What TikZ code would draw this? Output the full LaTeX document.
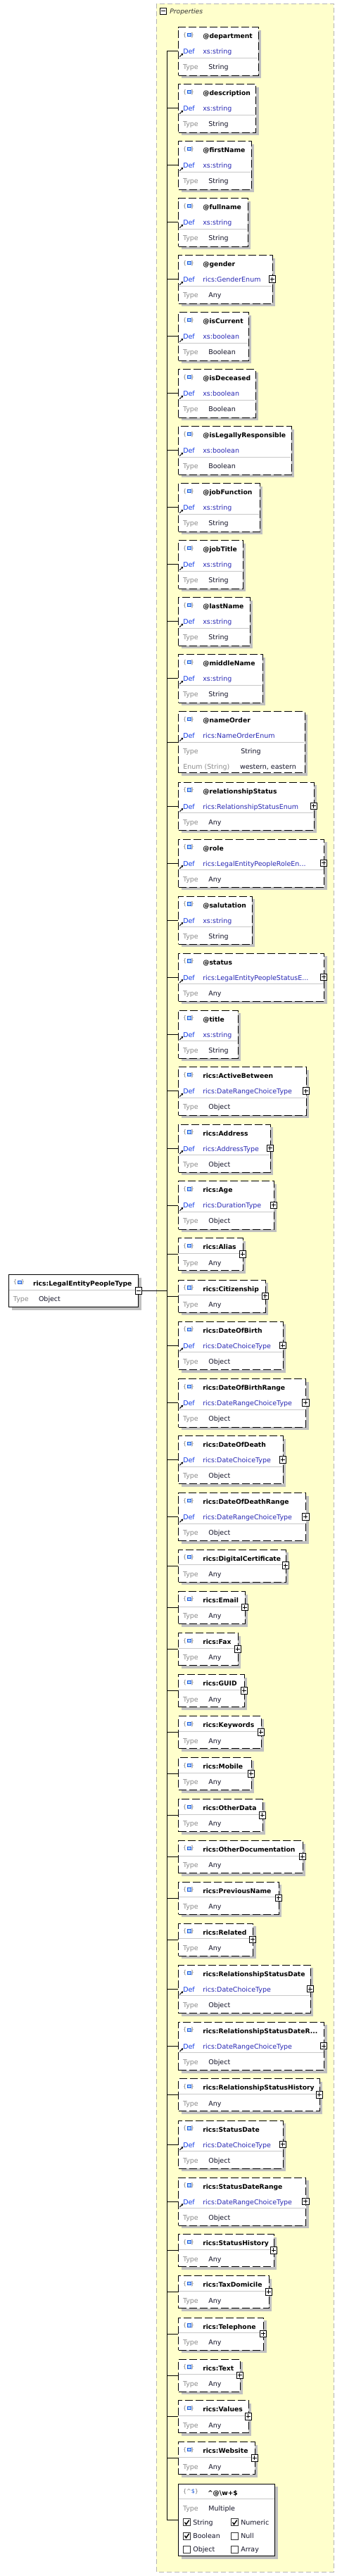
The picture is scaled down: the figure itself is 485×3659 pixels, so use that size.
\documentclass[tikz,border=0pt]{standalone}
\usepackage{fontspec}
\setmainfont{DejaVu Sans}
\usetikzlibrary{shadows,arrows.meta,calc}
\definecolor{panelfill}{RGB}{255,255,204}
\definecolor{panelline}{RGB}{180,180,180}
\definecolor{shadowgray}{RGB}{192,192,192}
\definecolor{seplinec}{RGB}{200,200,200}
\definecolor{deflblc}{RGB}{20,60,230}
\definecolor{defvalc}{RGB}{40,40,180}
\definecolor{typelblc}{RGB}{140,140,140}
\definecolor{typevalc}{RGB}{20,20,40}
\definecolor{iconfill}{RGB}{170,210,255}
\definecolor{iconline}{RGB}{30,90,220}
\definecolor{iconbrace}{RGB}{120,120,120}
\tikzset{
  elbox/.style={draw=black, fill=white, line width=1pt, inner sep=0pt, anchor=north west,
    drop shadow={shadow xshift=4pt, shadow yshift=-4pt, fill=shadowgray, opacity=1}},
  dashbox/.style={elbox, dash pattern=on 11pt off 4pt},
  solidbox/.style={elbox},
  panel/.style={fill=panelfill, draw=panelline, line width=1pt, dash pattern=on 7pt off 4pt},
  sepline/.style={draw=seplinec, line width=1pt},
  conn/.style={draw=black, line width=1pt},
  txtbase/.style={anchor=base west, inner sep=0pt, outer sep=0pt},
  titletxt/.style={txtbase, font=\fontsize{9.2}{11}\selectfont\bfseries, text=black},
  deflbl/.style={txtbase, font=\fontsize{9.5}{11}\selectfont, text=deflblc},
  defval/.style={txtbase, font=\fontsize{9.5}{11}\selectfont, text=defvalc},
  typelbl/.style={txtbase, font=\fontsize{9.5}{11}\selectfont, text=typelblc},
  typeval/.style={txtbase, font=\fontsize{9.5}{11}\selectfont, text=typevalc},
  proptxt/.style={txtbase, font=\fontsize{9.2}{11}\selectfont\itshape, text=black!80},
  icontxt/.style={inner sep=0pt, outer sep=0pt, font=\fontsize{8}{9}\selectfont, text=iconbrace},
  refarrow/.style={line width=1pt, -{Stealth[length=3pt,width=3.5pt]}},
  btnbase/.style={draw=black, fill=white, line width=0.8pt, minimum size=9.4pt, inner sep=0pt},
  plusbtn/.style={btnbase, path picture={
    \draw[line width=0.8pt] ([xshift=-3pt]path picture bounding box.center) -- ([xshift=3pt]path picture bounding box.center)
      ([yshift=-3pt]path picture bounding box.center) -- ([yshift=3pt]path picture bounding box.center);}},
  minusbtn/.style={btnbase, path picture={
    \draw[line width=0.8pt] ([xshift=-3pt]path picture bounding box.center) -- ([xshift=3pt]path picture bounding box.center);}},
  chkbox/.style={draw=black!80, fill=white, line width=0.8pt, minimum size=10pt, inner sep=0pt},
  checkmark/.style={draw=black, line width=1.4pt},
}
\newcommand\elicon[2]{%
  \node[icontxt, anchor=west] at (#1-1,#2) {\{};
  \node[icontxt, anchor=east] at (#1+15,#2) {\}};
  \draw[draw=iconline, fill=iconfill, line width=0.8pt] (#1+5,#2-2.5) rectangle (#1+10,#2+1.8);
}
\newcommand\elthree[7]{%
  \node[dashbox, minimum width={(#3-253)*1pt}, minimum height=68.3pt] (#1) at (253,#2) {};
  \draw[sepline] (253.5,#2+44) -- (#3-0.5,#2+44);
  \elicon{261}{#2+11.7}
  \node[titletxt] at (288.3,#2+16.5) {#4};
  \node[deflbl] at (260.3,#2+38.5) {Def};
  \node[defval] at (288.3,#2+38.5) {#5};
  \node[typelbl] at (260,#2+60.5) {Type};
  \node[typeval] at (296.3,#2+60.5) {#6};
  \draw[refarrow] (255.3,#2+42.3) -- (260.3,#2+37.5);
  \ifnum#7=1 \node[plusbtn] (#1p) at (#3,#2+34.2) {};\fi
}
\newcommand\eltwo[4]{%
  \node[dashbox, minimum width={(#3-253)*1pt}, minimum height=46pt] (#1) at (253,#2) {};
  \draw[sepline] (253.5,#2+22) -- (#3-0.5,#2+22);
  \elicon{261}{#2+11.5}
  \node[titletxt] at (288.3,#2+16.5) {#4};
  \node[typelbl] at (260,#2+38.7) {Type};
  \node[typeval] at (296.3,#2+38.7) {Any};
  \node[plusbtn] (#1p) at (#3,#2+23) {};
}
\newcommand\chk[4]{%
  \node[chkbox] (#1) at (#2,#3) {};
  \ifnum#4=1 \draw[checkmark] (#2-3,#3-0.2) -- (#2-1,#3+2.8) -- (#2+3.2,#3-3.2);\fi
}
\begin{document}
\begin{tikzpicture}[x=1pt,y=-1pt]
\useasboundingbox (0,0) rectangle (485,3659);
\fill[white] (0,0) rectangle (485,3659);
\draw[panel] (222,5) rectangle (474,3653);
\node[minusbtn] (propbtn) at (232,15.7) {};
\node[proptxt] (proplbl) at (241.3,19.5) {Properties};
% root
\node[solidbox, minimum width=184pt, minimum height=46pt] (root) at (12,1810) {};
\draw[sepline] (12.5,1832) -- (195.5,1832);
\elicon{20}{1821.5}
\node[titletxt] at (47,1826.5) {rics:LegalEntityPeopleType};
\node[typelbl] at (19,1848.7) {Type};
\node[typeval] at (55,1848.7) {Object};
\node[minusbtn] (rootbtn) at (root.east) {};
% children
\elthree{e1}{38.3}{366.7}{@department}{xs:string}{String}{0}
\elthree{e2}{119.3}{363.3}{@description}{xs:string}{String}{0}
\elthree{e3}{200.3}{356.7}{@firstName}{xs:string}{String}{0}
\elthree{e4}{281.3}{351.7}{@fullname}{xs:string}{String}{0}
\elthree{e5}{362.3}{386.7}{@gender}{rics:GenderEnum}{Any}{1}
\elthree{e6}{443.3}{352.7}{@isCurrent}{xs:boolean}{Boolean}{0}
\elthree{e7}{524.3}{362.7}{@isDeceased}{xs:boolean}{Boolean}{0}
\elthree{e8}{605.3}{413.7}{@isLegallyResponsible}{xs:boolean}{Boolean}{0}
\elthree{e9}{686.3}{368.7}{@jobFunction}{xs:string}{String}{0}
\elthree{e10}{767.3}{344.7}{@jobTitle}{xs:string}{String}{0}
\elthree{e11}{848.3}{354.7}{@lastName}{xs:string}{String}{0}
\elthree{e12}{929.3}{372.7}{@middleName}{xs:string}{String}{0}
% nameOrder (4 rows)
\node[dashbox, minimum width=179.7pt, minimum height=87pt] (e13) at (253,1010.3) {};
\draw[sepline] (253.5,1054.3) -- (432.2,1054.3);
\elicon{261}{1022}
\node[titletxt] at (288.3,1026.8) {@nameOrder};
\node[deflbl] at (260.3,1048.8) {Def};
\node[defval] at (288.3,1048.8) {rics:NameOrderEnum};
\draw[refarrow] (255.3,1052.6) -- (260.3,1047.8);
\node[typelbl] at (260,1070.8) {Type};
\node[typeval] at (342.3,1070.8) {String};
\node[typelbl] at (260.3,1092.1) {Enum (String)};
\node[typeval] at (341,1092.1) {western, eastern};
\elthree{e14}{1110.5}{445.7}{@relationshipStatus}{rics:RelationshipStatusEnum}{Any}{1}
\elthree{e15}{1191.5}{460}{@role}{rics:LegalEntityPeopleRoleEn...}{Any}{1}
\elthree{e16}{1272.5}{357.7}{@salutation}{xs:string}{String}{0}
\elthree{e17}{1353.5}{460}{@status}{rics:LegalEntityPeopleStatusE...}{Any}{1}
\elthree{e18}{1434.5}{337.7}{@title}{xs:string}{String}{0}
\elthree{e19}{1515.3}{434.7}{rics:ActiveBetween}{rics:DateRangeChoiceType}{Object}{1}
\elthree{e20}{1596.5}{383.7}{rics:Address}{rics:AddressType}{Object}{1}
\elthree{e21}{1677.4}{388.7}{rics:Age}{rics:DurationType}{Object}{1}
\eltwo{e22}{1758.3}{344.7}{rics:Alias}
\eltwo{e23}{1817.6}{376.7}{rics:Citizenship}
\elthree{e24}{1876.8}{401.7}{rics:DateOfBirth}{rics:DateChoiceType}{Object}{1}
\elthree{e25}{1958.2}{434.3}{rics:DateOfBirthRange}{rics:DateRangeChoiceType}{Object}{1}
\elthree{e26}{2039}{401.7}{rics:DateOfDeath}{rics:DateChoiceType}{Object}{1}
\elthree{e27}{2120}{434.3}{rics:DateOfDeathRange}{rics:DateRangeChoiceType}{Object}{1}
\eltwo{e28}{2200.5}{405.7}{rics:DigitalCertificate}
\eltwo{e29}{2260}{347.7}{rics:Email}
\eltwo{e30}{2319.2}{337.7}{rics:Fax}
\eltwo{e31}{2378.4}{346.7}{rics:GUID}
\eltwo{e32}{2437.4}{370.7}{rics:Keywords}
\eltwo{e33}{2496.2}{356.7}{rics:Mobile}
\eltwo{e34}{2555.2}{372.7}{rics:OtherData}
\eltwo{e35}{2614}{429.7}{rics:OtherDocumentation}
\eltwo{e36}{2672.8}{395.7}{rics:PreviousName}
\eltwo{e37}{2731.8}{359}{rics:Related}
\elthree{e38}{2790.8}{440.7}{rics:RelationshipStatusDate}{rics:DateChoiceType}{Object}{1}
\elthree{e39}{2871.7}{460}{rics:RelationshipStatusDateR...}{rics:DateRangeChoiceType}{Object}{1}
\eltwo{e40}{2952.4}{453.7}{rics:RelationshipStatusHistory}
\elthree{e41}{3011.6}{401.7}{rics:StatusDate}{rics:DateChoiceType}{Object}{1}
\elthree{e42}{3092.6}{434.3}{rics:StatusDateRange}{rics:DateRangeChoiceType}{Object}{1}
\eltwo{e43}{3173.4}{388.7}{rics:StatusHistory}
\eltwo{e44}{3232.4}{381.7}{rics:TaxDomicile}
\eltwo{e45}{3291.6}{374}{rics:Telephone}
\eltwo{e46}{3350.6}{340.7}{rics:Text}
\eltwo{e47}{3409.4}{352.7}{rics:Values}
\eltwo{e48}{3468.4}{361.7}{rics:Website}
% pattern properties box
\node[solidbox, minimum width=137.3pt, minimum height=102.7pt] (e49) at (253,3527.7) {};
\draw[sepline] (253.5,3549.7) -- (389.8,3549.7);
\node[icontxt, anchor=west] at (260,3539.4) {\{\textasciicircum\textcolor{iconline}{\$}\}};
\node[titletxt] at (295,3544) {\textasciicircum @\textbackslash w+\$};
\node[typelbl] at (260,3566.2) {Type};
\node[typeval] at (296.3,3566.2) {Multiple};
\chk{cb1}{265.5}{3582.8}{1}
\node[typeval] at (274.3,3586.5) {String};
\chk{cb2}{333.5}{3582.8}{1}
\node[typeval] at (342.3,3586.5) {Numeric};
\chk{cb3}{265.5}{3601.9}{1}
\node[typeval] at (274.3,3605.6) {Boolean};
\chk{cb4}{333.5}{3601.9}{0}
\node[typeval] at (342.3,3605.6) {Null};
\chk{cb5}{265.5}{3620.9}{0}
\node[typeval] at (274.3,3624.6) {Object};
\chk{cb6}{333.5}{3620.9}{0}
\node[typeval] at (342.3,3624.6) {Array};
% connectors
\coordinate (bus) at (237,0);
\draw[conn] (e1.west -| bus) -- (e49.west -| bus);
\foreach \i in {1,...,49} \draw[conn] (e\i.west -| bus) -- (e\i.west);
\draw[conn] (rootbtn.east) -- (rootbtn.east -| bus);
\end{tikzpicture}
\end{document}
